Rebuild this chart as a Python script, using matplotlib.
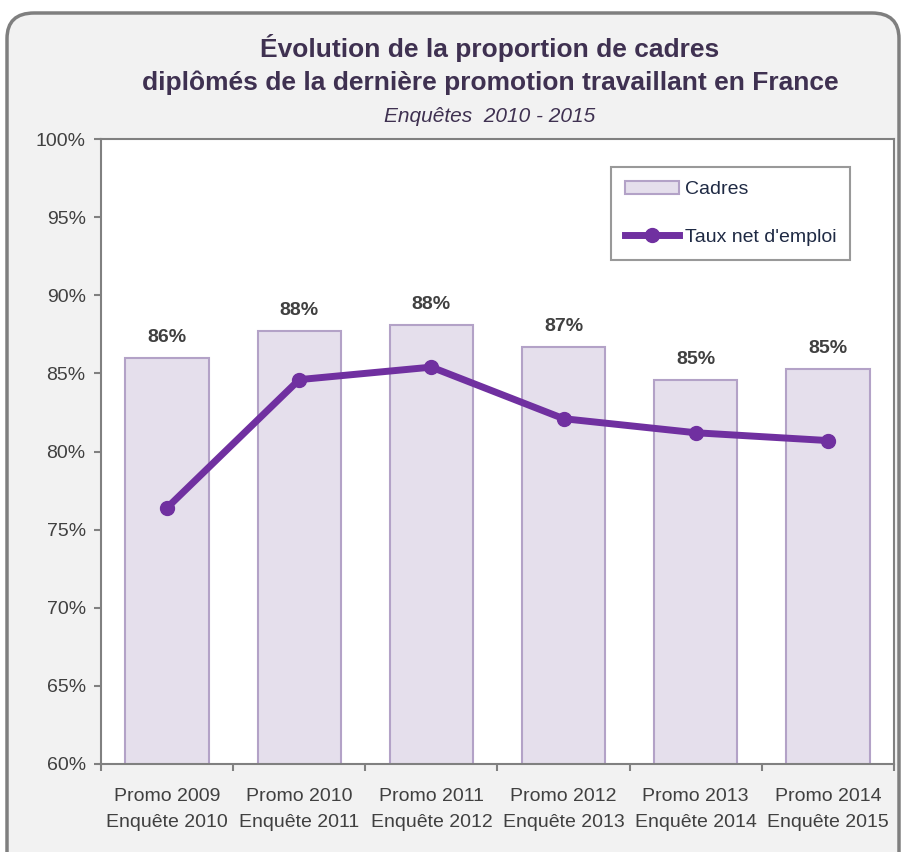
import matplotlib
matplotlib.use("Agg")
import matplotlib.pyplot as plt
from matplotlib.patches import FancyBboxPatch
from matplotlib.ticker import FuncFormatter, MultipleLocator
import numpy as np

categories = ["Promo 2009\nEnquête 2010", "Promo 2010\nEnquête 2011",
              "Promo 2011\nEnquête 2012", "Promo 2012\nEnquête 2013",
              "Promo 2013\nEnquête 2014", "Promo 2014\nEnquête 2015"]
cadres = [86.0, 87.7, 88.1, 86.7, 84.6, 85.3]
taux_net = [76.4, 84.6, 85.4, 82.1, 81.2, 80.7]
bar_labels = ["86%", "88%", "88%", "87%", "85%", "85%"]

FONT = ["Liberation Sans Narrow", "Liberation Sans", "DejaVu Sans"]
plt.rcParams["font.family"] = FONT

W, H = 903, 852
fig = plt.figure(figsize=(W / 100, H / 100), dpi=100)
fig.patch.set_facecolor("white")

# rounded grey frame around the whole chart
frame = FancyBboxPatch((7 / W, -0.05), (892 / W), 1 - 13 / H + 0.05,
                       boxstyle="round,pad=0,rounding_size=0.03",
                       transform=fig.transFigure, facecolor="#f2f2f2",
                       edgecolor="#7f7f7f", linewidth=2.5, zorder=-5)
fig.patches.append(frame)

ax = fig.add_axes([101 / W, 1 - 764 / H, (894 - 101) / W, (764 - 139) / H])
ax.set_zorder(2)
ax.set_facecolor("white")

x = np.arange(len(categories))
bars = ax.bar(x, cadres, width=0.63, color="#e5dfec", edgecolor="#b3a2c7",
              linewidth=1.5, label="Cadres", zorder=2)
line, = ax.plot(x, taux_net, color="#7030a0", linewidth=5, marker="o",
                markersize=10, label="Taux net d'emploi", zorder=3)

for xi, v, lab in zip(x, cadres, bar_labels):
    ax.text(xi, v + 0.75, lab, ha="center", va="bottom", fontsize=14,
            fontweight="bold", color="#404040")

ax.set_ylim(60, 100)
ax.set_xlim(-0.5, len(categories) - 0.5)
ax.yaxis.set_major_locator(MultipleLocator(5))
ax.yaxis.set_major_formatter(FuncFormatter(lambda v, p: f"{v:.0f}%"))
ax.set_xticks(np.arange(len(categories) + 1) - 0.5)
ax.set_xticklabels([])
ax.set_xticks(x, minor=True)
ax.set_xticklabels(categories, minor=True, fontsize=14, color="#404040",
                   linespacing=1.75)
ax.tick_params(axis="x", which="minor", length=0, pad=17)
ax.tick_params(axis="x", which="major", length=5, color="#808080", width=1.5)
ax.tick_params(axis="y", length=5, color="#808080", width=1.5,
               labelsize=14, labelcolor="#404040", pad=6)
for s in ax.spines.values():
    s.set_color("#808080")
    s.set_linewidth(1.5)

leg = ax.legend([bars, line], ["Cadres", "Taux net d'emploi"],
                loc="upper right", bbox_to_anchor=(0.945, 0.955), fontsize=14,
                frameon=True, fancybox=False, edgecolor="#808080",
                borderpad=0.7, labelspacing=1.55, handlelength=2.8,
                handletextpad=0.3, borderaxespad=0)
leg.get_frame().set_linewidth(1.5)
for t in leg.get_texts():
    t.set_color("#1f2a44")

cx = 490 / W
fig.text(cx, 1 - 48 / H, "Évolution de la proportion de cadres",
         ha="center", va="center", fontsize=19, fontweight="bold",
         color="#3f3151")
fig.text(cx, 1 - 83 / H,
         "diplômés de la dernière promotion travaillant en France",
         ha="center", va="center", fontsize=19, fontweight="bold",
         color="#3f3151")
fig.text(cx, 1 - 117 / H, "Enquêtes  2010 - 2015", ha="center",
         va="center", fontsize=15, style="italic", color="#3f3151")

fig.savefig("out.png", dpi=100)
